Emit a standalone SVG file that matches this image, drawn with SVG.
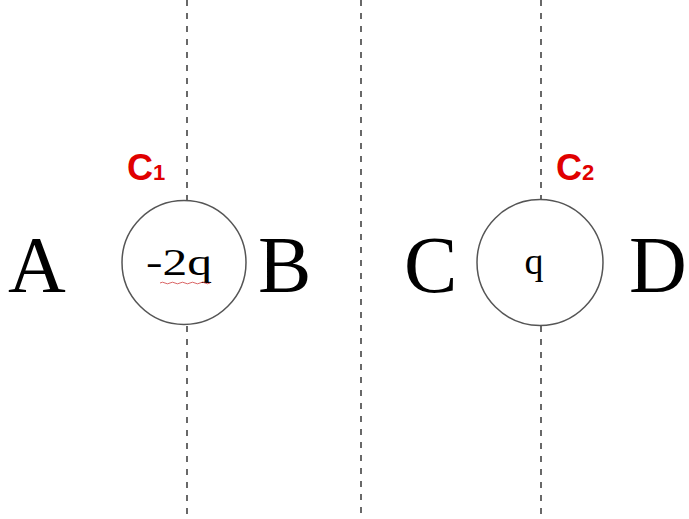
<svg xmlns="http://www.w3.org/2000/svg" width="689" height="519" viewBox="0 0 689 519">
<style>
.dash{stroke:#444;stroke-width:1.6;stroke-dasharray:6 7;fill:none}
.ring{stroke:#555;stroke-width:1.5;fill:#fff}
.big{font-family:"Liberation Serif",serif;font-size:80px;fill:#000}
.chg{font-family:"Liberation Serif",serif;font-size:38px;fill:#000}
.lbl{font-family:"Liberation Sans",sans-serif;font-weight:bold;fill:#e00000}
</style>
<rect width="689" height="519" fill="#fff"/>
<g id="connectors">
<line class="dash" x1="187" y1="0" x2="187" y2="200"/>
<line class="dash" x1="187" y1="326" x2="187" y2="519"/>
<line class="dash" x1="361" y1="0" x2="361" y2="519"/>
<line class="dash" x1="541" y1="0" x2="541" y2="200"/>
<line class="dash" x1="541" y1="326" x2="541" y2="519"/>
</g>
<g id="charge1">
<circle class="ring" cx="184" cy="262.5" r="62"/>
<text class="chg" x="146" y="275" textLength="66" lengthAdjust="spacingAndGlyphs">-2q</text>
<path d="M160 283 q2.5 -1.6 5 0 t5 0 t5 0 t5 0 t5 0 t5 0 t5 0 t5 0 t5 0 t5 0" stroke="#d04040" stroke-width="0.8" fill="none"/>
</g>
<g id="charge2">
<circle class="ring" cx="540" cy="262.5" r="63"/>
<text class="chg" x="534" y="274" text-anchor="middle" font-size="42">q</text>
</g>
<g id="labelC1">
<text class="lbl" x="127" y="180" font-size="36">C<tspan font-size="22">1</tspan></text>
</g>
<g id="labelC2">
<text class="lbl" x="556" y="180" font-size="36">C<tspan font-size="22">2</tspan></text>
</g>
<g id="A"><text class="big" x="8" y="292">A</text></g>
<g id="B"><text class="big" x="258" y="292">B</text></g>
<g id="C"><text class="big" x="404" y="292">C</text></g>
<g id="D"><text class="big" x="629" y="292">D</text></g>
</svg>
